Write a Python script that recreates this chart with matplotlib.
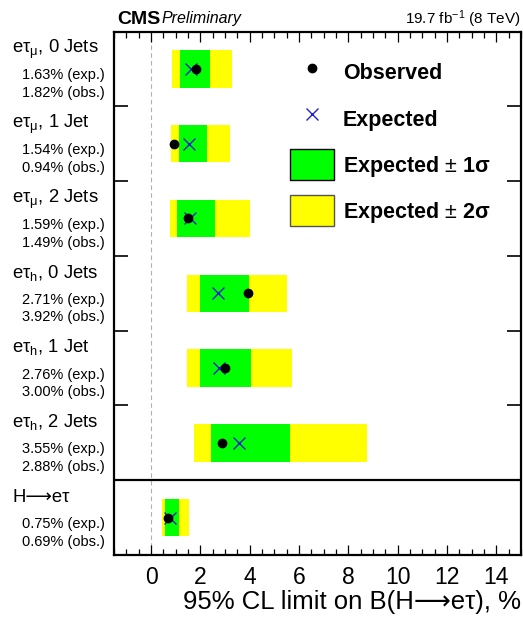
import numpy as np
import matplotlib.pyplot as plt
import matplotlib.transforms as mtransforms
from matplotlib.lines import Line2D
from matplotlib.patches import Patch
from matplotlib.ticker import MultipleLocator

plt.rcParams['font.family'] = ['Liberation Sans', 'DejaVu Sans']
plt.rcParams['mathtext.fontset'] = 'custom'
plt.rcParams['mathtext.rm'] = 'Liberation Sans'
plt.rcParams['mathtext.it'] = 'Liberation Sans:italic'
plt.rcParams['mathtext.bf'] = 'Liberation Sans:bold'

# categories, top to bottom
channels = ['eτ$_{\\mathrm{\\mu}}$, 0 Jets', 'eτ$_{\\mathrm{\\mu}}$, 1 Jet', 'eτ$_{\\mathrm{\\mu}}$, 2 Jets',
            'eτ$_{\\mathrm{h}}$, 0 Jets', 'eτ$_{\\mathrm{h}}$, 1 Jet', 'eτ$_{\\mathrm{h}}$, 2 Jets',
            'H⟶eτ']

# limits in %
exp_lim = [1.63, 1.54, 1.59, 2.71, 2.76, 3.55, 0.75]
obs_lim = [1.82, 0.94, 1.49, 3.92, 3.00, 2.88, 0.69]
band1_lo = [1.18, 1.12, 1.05, 1.98, 1.98, 2.42, 0.56]
band1_hi = [2.39, 2.28, 2.60, 3.98, 4.06, 5.62, 1.14]
band2_lo = [0.87, 0.83, 0.78, 1.47, 1.47, 1.75, 0.43]
band2_hi = [3.29, 3.20, 4.03, 5.51, 5.71, 8.75, 1.56]

y = np.arange(len(channels)) + 0.5

fig = plt.figure(figsize=(5.23, 6.17), dpi=100)
ax = fig.add_axes([114/523, 1 - 555/617, 407/523, (555 - 31.5)/617])

b2_lo = np.array(band2_lo)
b1_lo = np.array(band1_lo)
ax.barh(y, np.array(band2_hi) - b2_lo, left=b2_lo, height=0.5, color='#ffff00', lw=0, zorder=2)
ax.barh(y, np.array(band1_hi) - b1_lo, left=b1_lo, height=0.5, color='#00ff00', lw=0, zorder=3)
ax.plot(exp_lim, y, ls='none', marker='x', ms=9, mew=1.0, color='#2222cc', zorder=4)
ax.plot(obs_lim, y, ls='none', marker='o', ms=6, color='black', zorder=5)

ax.axvline(0, color='#b0b0b0', ls=(0, (4, 3)), lw=0.8, zorder=1)
ax.axhline(6, color='black', lw=1.6, zorder=6)

ax.set_xlim(-1.5, 15)
ax.set_ylim(7, 0)
ax.xaxis.set_major_locator(MultipleLocator(2))
ax.xaxis.set_minor_locator(MultipleLocator(0.5))
ax.tick_params(axis='x', which='major', direction='in', top=True, length=7.5, width=0.9,
               labelsize=16.5, pad=8)
ax.tick_params(axis='x', which='minor', direction='in', top=True, length=4, width=0.9)
ax.set_yticks([1, 2, 3, 4, 5])
ax.set_yticklabels([])
ax.tick_params(axis='y', direction='in', right=True, length=10, width=1.2)
for s in ax.spines.values():
    s.set_linewidth(1.6)

ax.set_xlabel('95% CL limit on B(H⟶eτ), %', loc='right', fontsize=18.5, labelpad=1)

# row labels left of the frame
trans = mtransforms.blended_transform_factory(fig.transFigure, ax.transData)
for i in range(len(channels)):
    ax.text(12/523, y[i] - 0.21, channels[i], transform=trans, fontsize=13.3,
            ha='left', va='baseline')
    ax.text(105/523, y[i] + 0.14, f'{exp_lim[i]:.2f}% (exp.)', transform=trans,
            fontsize=10.5, ha='right', va='baseline')
    ax.text(105/523, y[i] + 0.375, f'{obs_lim[i]:.2f}% (obs.)', transform=trans,
            fontsize=10.5, ha='right', va='baseline')

handles = [Line2D([], [], ls='none', marker='o', ms=6, color='black'),
           Line2D([], [], ls='none', marker='x', ms=9, mew=1.0, color='#2222cc'),
           Patch(facecolor='#00ff00', edgecolor='black', lw=1),
           Patch(facecolor='#ffff00', edgecolor='#555555', lw=1)]
labels = ['Observed', 'Expected', 'Expected $\\pm$ 1σ', 'Expected $\\pm$ 2σ']
ax.legend(handles, labels, loc='upper left', bbox_to_anchor=(290/523, 1 - 57/617),
          bbox_transform=fig.transFigure, frameon=False, borderpad=0, borderaxespad=0,
          prop={'weight': 'bold', 'size': 15.5}, handlelength=2.05, handleheight=1.85,
          handletextpad=0.4, labelspacing=0.69)

fig.text(117/523, 1 - 23.5/617, 'CMS', fontsize=14, fontweight='bold', va='baseline')
fig.text(162/523, 1 - 23.5/617, 'Preliminary', fontsize=11.5, style='italic', va='baseline')
fig.text(521/523, 1 - 23.5/617, '19.7 fb$^{-1}$ (8 TeV)', fontsize=11, ha='right', va='baseline')

fig.savefig('out.png', dpi=100)
